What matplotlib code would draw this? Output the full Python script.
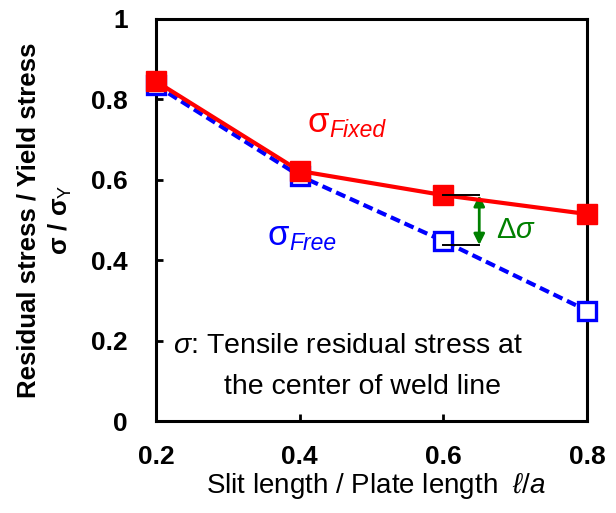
import numpy as np
import matplotlib.pyplot as plt

plt.rcParams['font.family'] = ['Liberation Sans', 'DejaVu Sans']
plt.rcParams['mathtext.fontset'] = 'custom'
plt.rcParams['mathtext.rm'] = 'Liberation Sans'
plt.rcParams['mathtext.it'] = 'Liberation Sans:italic'

# データ
ratio = [0.2, 0.4, 0.6, 0.8]
fixed = [0.845, 0.622, 0.562, 0.515]
free = [0.835, 0.610, 0.448, 0.275]

fig = plt.figure(figsize=(6.16, 5.13), dpi=100)
ax = fig.add_axes([0.253, 0.179, 0.700, 0.784])

ax.plot(ratio, free, color='blue', lw=3, ls=(0, (2.4, 1.2)), marker='s', ms=13,
        mfc='white', mec='blue', mew=2.4, zorder=3, clip_on=False)
ax.plot(ratio, fixed, color='red', lw=3, marker='s', ms=14,
        mfc='red', mec='red', zorder=4, clip_on=False)

# Δσ
ax.plot([0.6, 0.65], [fixed[2], fixed[2]], color='black', lw=1.4, zorder=5)
ax.plot([0.6, 0.65], [0.438, 0.438], color='black', lw=1.4, zorder=5)
ax.annotate('', xy=(0.65, 0.438), xytext=(0.65, fixed[2]),
            arrowprops=dict(arrowstyle='<|-|>', color='green', lw=2,
                            mutation_scale=16, shrinkA=0, shrinkB=0))
ax.text(0.673, 0.455, r'Δ$\it{σ}$', color='green', fontsize=21, va='baseline')

ax.text(0.4116, 0.719, 'σ', color='red', fontsize=25, va='baseline')
ax.text(0.441, 0.706, 'Fixed', color='red', fontsize=16.5, style='italic', va='baseline')
ax.text(0.356, 0.438, 'σ', color='blue', fontsize=25, va='baseline')
ax.text(0.3855, 0.425, 'Free', color='blue', fontsize=16.5, style='italic', va='baseline')

ax.text(0.467, 0.169, r'$\it{σ}$: Tensile residual stress at', fontsize=20.5,
        ha='center', va='baseline')
ax.text(0.487, 0.067, 'the center of weld line', fontsize=20.5,
        ha='center', va='baseline')

ax.set_xlim(0.2, 0.8)
ax.set_ylim(0, 1)
ax.set_xticks([0.2, 0.4, 0.6, 0.8])
ax.set_yticks([0, 0.2, 0.4, 0.6, 0.8, 1])
ax.set_xticklabels(['0.2', '0.4', '0.6', '0.8'])
ax.set_yticklabels(['0', '0.2', '0.4', '0.6', '0.8', '1'])
ax.tick_params(direction='in', length=5, width=2, labelsize=19)
ax.tick_params(axis='x', pad=17)
ax.tick_params(axis='y', pad=20)
for lab in ax.get_xticklabels() + ax.get_yticklabels():
    lab.set_fontweight('bold')
for s in ax.spines.values():
    s.set_linewidth(2.2)

ax.set_xlabel(r'Slit length / Plate length  $\it{ℓ/a}$', fontsize=20)
ax.xaxis.set_label_coords(0.51, -0.125)
ax.set_ylabel('Residual stress / Yield stress\nσ / σ$_{\\rm Y}$', fontsize=18.5,
              fontweight='bold', linespacing=1.3)
ax.yaxis.set_label_coords(-0.19, 0.5)

plt.savefig('out.png', dpi=100)
